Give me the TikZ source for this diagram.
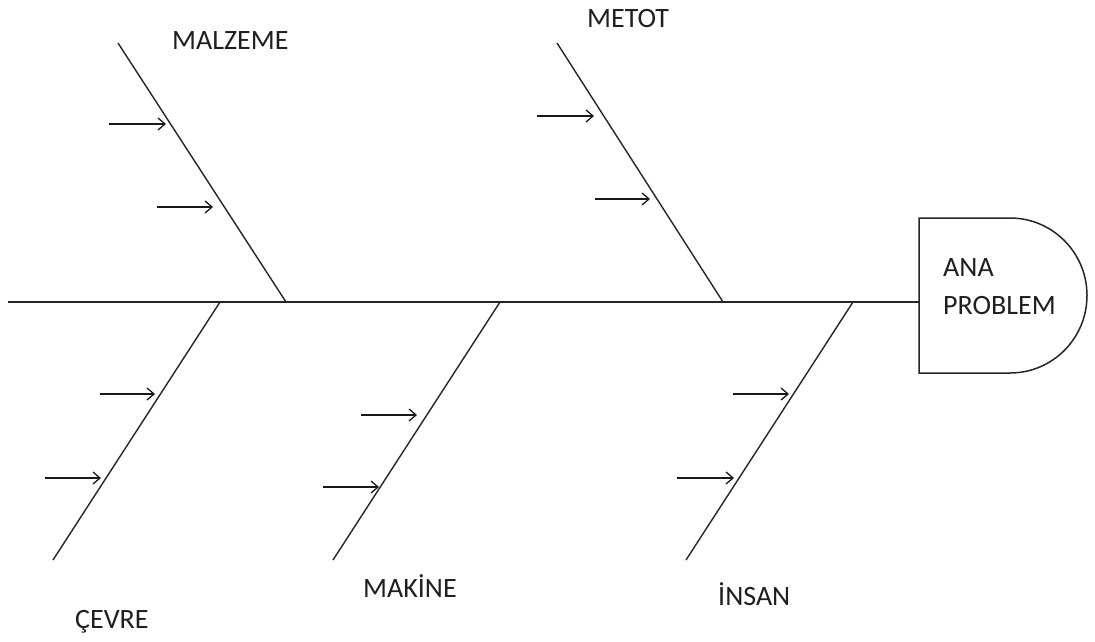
\documentclass[tikz,border=0pt]{standalone}
\usepackage{fontspec}
\setmainfont{Carlito}
\usetikzlibrary{arrows.meta}
\begin{document}
\begin{tikzpicture}[x=1pt,y=-1pt,
  bone/.style={line width=1.4pt,draw=black!85},
  spine/.style={line width=1.8pt,draw=black!85},
  cause/.style={line width=1.4pt,draw=black!90,-{Straight Barb[length=7,width=12,line width=1.3pt]}},
  lbl/.style={inner sep=0pt,anchor=base west,font=\fontsize{28}{38}\selectfont,text=black!88}]
\useasboundingbox[fill=white] (0,0) rectangle (1095,642);
% head
\path[draw=black!85,line width=1.5pt] (919,218) -- (1010,218) arc[start angle=-90,end angle=90,x radius=77,y radius=77.5] -- (919,373) -- cycle;
\coordinate (head) at (919,302);
\coordinate (tail) at (8,302);
\node[lbl,align=left,anchor=north west] (problem) at (943,258) {ANA\\PROBLEM};
% spine
\draw[spine] (tail) -- (head);
% bones
\coordinate (malzA) at (118,43);  \coordinate (malzB) at (286,302);
\coordinate (metA) at (557,43);   \coordinate (metB) at (723,302);
\coordinate (cevA) at (53,560);   \coordinate (cevB) at (220,302);
\coordinate (makA) at (333,560);  \coordinate (makB) at (500,302);
\coordinate (insA) at (686,560);  \coordinate (insB) at (853,302);
\draw[bone] (malzA) -- (malzB);
\draw[bone] (metA) -- (metB);
\draw[bone] (cevA) -- (cevB);
\draw[bone] (makA) -- (makB);
\draw[bone] (insA) -- (insB);
% labels
\node[lbl] (malz) at (172,49) {MALZEME};
\node[lbl] (met) at (587,28) {METOT};
\node[lbl] (cev) at (75,628) {ÇEVRE};
\node[lbl] (mak) at (363,597) {MAKİNE};
\node[lbl] (ins) at (718,605) {İNSAN};
% causes
\coordinate (c1a) at (109,124); \coordinate (c1b) at (166,124);
\coordinate (c2a) at (157,207); \coordinate (c2b) at (213,207);
\coordinate (c3a) at (537,116); \coordinate (c3b) at (594,116);
\coordinate (c4a) at (595,199); \coordinate (c4b) at (650,199);
\coordinate (c5a) at (100,394); \coordinate (c5b) at (155,394);
\coordinate (c6a) at (45,478);  \coordinate (c6b) at (101,478);
\coordinate (c7a) at (361,415); \coordinate (c7b) at (417,415);
\coordinate (c8a) at (323,487); \coordinate (c8b) at (379,487);
\coordinate (c9a) at (733,394); \coordinate (c9b) at (789,394);
\coordinate (c10a) at (677,478); \coordinate (c10b) at (734,478);
\foreach \i in {1,...,10} \draw[cause] (c\i a) -- (c\i b);
\end{tikzpicture}
\end{document}
